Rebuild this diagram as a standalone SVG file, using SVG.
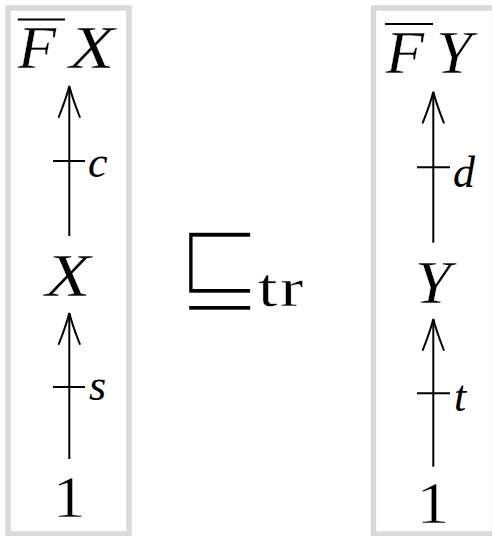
<svg xmlns="http://www.w3.org/2000/svg" xmlns:xlink="http://www.w3.org/1999/xlink" width="492" height="536" viewBox="0 0 492 536">
<style>
.box{fill:none;stroke:#dadada;stroke-width:5.5}
.m{font-family:"Liberation Serif",serif;font-style:italic;font-size:61px;fill:#000;text-anchor:middle;stroke:#fff;stroke-width:0.4}
.n{font-family:"Liberation Serif",serif;font-size:60px;fill:#000;text-anchor:middle;stroke:#fff;stroke-width:0.5}
.lab{font-family:"Liberation Serif",serif;font-style:italic;font-size:44px;fill:#000}
.ln{stroke:#000;stroke-width:2;fill:none}
.ah{stroke:#000;stroke-width:2;fill:none;stroke-linecap:round}
</style>
<defs>
<path id="ah" class="ah" d="M-10.5,31 Q-3,12 0,0 Q3,12 10.5,31"/>
</defs>
<rect class="box" x="8" y="8" width="121" height="526"/>
<rect class="box" x="373.5" y="8" width="121" height="526"/>
<g id="FX">
<line class="ln" x1="17.7" y1="19.5" x2="65" y2="19.5" stroke-width="2.3"/>
<text class="m" transform="translate(37,68.3) scale(1.03,1)">F</text>
<text class="m" transform="translate(92,68.3) scale(1.22,1)">X</text>
</g>
<g id="X"><text class="m" transform="translate(68,296) scale(1.22,1)">X</text></g>
<g id="one-left"><text class="n" transform="translate(69,517) scale(1.1,1)">1</text></g>
<g id="FY">
<line class="ln" x1="385" y1="24" x2="433" y2="24" stroke-width="2.3"/>
<text class="m" transform="translate(405,73.3) scale(1.03,1)">F</text>
<text class="m" transform="translate(454,73.3) scale(1.06,1)">Y</text>
</g>
<g id="Y"><text class="m" transform="translate(433,302.7) scale(1.07,1)">Y</text></g>
<g id="one-right"><text class="n" transform="translate(433,523) scale(1.1,1)">1</text></g>
<g id="relation">
<text transform="translate(175.2,302.7) scale(1.06,1.16)" font-family="DejaVu Sans,sans-serif" font-size="100" letter-spacing="-14" fill="#000" stroke="#fff" stroke-width="5">⊑</text>
<text transform="translate(258,306) scale(1.3,1)" font-family="Liberation Serif,serif" font-size="54" fill="#000" stroke="#fff" stroke-width="0.4"><tspan x="0">t</tspan><tspan x="17">r</tspan></text>
</g>
<g id="connectors">
<line class="ln" x1="69.3" y1="236" x2="69.3" y2="87"/>
<use xlink:href="#ah" x="69.3" y="86"/>
<line class="ln" x1="53" y1="161" x2="85" y2="161"/>
<text class="lab" x="88" y="177">c</text>
<line class="ln" x1="69.3" y1="459" x2="69.3" y2="314"/>
<use xlink:href="#ah" x="69.3" y="313"/>
<line class="ln" x1="53" y1="387" x2="85" y2="387"/>
<text class="lab" x="89" y="400">s</text>
<line class="ln" x1="433.3" y1="242.7" x2="433.3" y2="92.7"/>
<use xlink:href="#ah" x="433.3" y="91.7"/>
<line class="ln" x1="417" y1="167.3" x2="450" y2="167.3"/>
<text class="lab" x="453" y="187">d</text>
<line class="ln" x1="433.3" y1="466.7" x2="433.3" y2="320"/>
<use xlink:href="#ah" x="433.3" y="319"/>
<line class="ln" x1="417" y1="393.3" x2="450" y2="393.3"/>
<text class="lab" x="454" y="410.7">t</text>
</g>
</svg>
